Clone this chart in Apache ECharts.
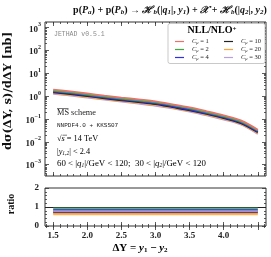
<!DOCTYPE html>
<html><head><meta charset="utf-8">
<script src="https://cdn.jsdelivr.net/npm/echarts@6/dist/echarts.min.js"></script>
<style>html,body{margin:0;padding:0;background:#fff}#c{width:271px;height:257px}</style>
</head><body><div id="c"></div>
<script>
// ---- data ----
const deltaY = [1.5, 1.75, 2.0, 2.25, 2.5, 2.75, 3.0, 3.25, 3.5, 3.75, 4.0, 4.25, 4.5];
const sigmaC1  = [1.93, 1.61, 1.31, 1.06, 0.87, 0.72, 0.59, 0.44, 0.32, 0.217, 0.143, 0.087, 0.034];
const sigmaC2  = [1.74, 1.45, 1.18, 0.96, 0.78, 0.65, 0.53, 0.40, 0.29, 0.196, 0.129, 0.078, 0.031];
const sigmaC4  = [1.58, 1.32, 1.07, 0.87, 0.71, 0.59, 0.48, 0.36, 0.26, 0.178, 0.117, 0.071, 0.028];
const sigmaC10 = [1.47, 1.23, 1.00, 0.81, 0.66, 0.55, 0.45, 0.33, 0.24, 0.166, 0.109, 0.066, 0.026];
const sigmaC20 = [1.36, 1.14, 0.92, 0.75, 0.61, 0.51, 0.41, 0.31, 0.224, 0.153, 0.101, 0.061, 0.024];
const sigmaC30 = [1.26, 1.06, 0.86, 0.70, 0.57, 0.47, 0.38, 0.29, 0.208, 0.142, 0.094, 0.057, 0.022];
const ratioC1  = [0.68, 0.68, 0.68, 0.68, 0.68, 0.68, 0.68, 0.68, 0.68, 0.68, 0.68, 0.68, 0.68];
const ratioC2  = [0.92, 0.92, 0.92, 0.92, 0.92, 0.92, 0.92, 0.92, 0.92, 0.92, 0.92, 0.92, 0.92];
const ratioC4  = [0.84, 0.84, 0.84, 0.84, 0.84, 0.84, 0.84, 0.84, 0.84, 0.84, 0.84, 0.84, 0.84];
const ratioC10 = [0.74, 0.74, 0.74, 0.74, 0.74, 0.74, 0.74, 0.74, 0.74, 0.74, 0.74, 0.74, 0.74];
const ratioC20 = [0.62, 0.62, 0.62, 0.62, 0.62, 0.62, 0.62, 0.62, 0.62, 0.62, 0.62, 0.62, 0.62];
const ratioC30 = [0.78, 0.78, 0.78, 0.78, 0.78, 0.78, 0.78, 0.78, 0.78, 0.78, 0.78, 0.78, 0.78];
const seriesNames = ['C1', 'C2', 'C4', 'C10', 'C20', 'C30'];
const muValues = ['1', '2', '4', '10', '20', '30'];
const xTickLabels = [1.5, 2.0, 2.5, 3.0, 3.5, 4.0];
const xMajorTicks = [1.5, 2.0, 2.5, 3.0, 3.5, 4.0, 4.5];
const xMinorTicks = [1.4, 1.5, 1.6, 1.7, 1.8, 1.9, 2.0, 2.1, 2.2, 2.3, 2.4, 2.5, 2.6, 2.7, 2.8, 2.9, 3.0, 3.1, 3.2, 3.3, 3.4, 3.5, 3.6, 3.7, 3.8, 3.9, 4.0, 4.1, 4.2, 4.3, 4.4, 4.5, 4.6];
const yMainTicks = [1e-3, 1e-2, 1e-1, 1, 1e1, 1e2, 1e3];
const ratioTicks = [0, 1, 2];
const ratioMinorTicks = [0.2, 0.4, 0.6, 0.8, 1.2, 1.4, 1.6, 1.8];

// ---- style ----
const colors = ['#e8726c', '#3eaa3e', '#2f2fe8', '#222222', '#ffa43a', '#b7a0dc'];
const SERIF = '"Liberation Serif", "DejaVu Serif", serif';
const DSERIF = '"DejaVu Serif", serif';
const MONO = '"Liberation Mono", "DejaVu Sans Mono", monospace';
const NB = '\u00a0';
const X_MIN = 1.38, X_MAX = 4.62;
const Y_MIN = Math.pow(10, -3.5), Y_MAX = Math.pow(10, 3.25);

const yMinorTicks = [];
for (let e = -4; e <= 3; e++) for (let k = 2; k <= 9; k++) {
  const v = k * Math.pow(10, e);
  if (v > Y_MIN && v < Y_MAX) yMinorTicks.push(v);
}

const tickLine = { color: '#333', width: 0.8 };
function xAx(grid, pos, ticks, len, labels) {
  return {
    type: 'value', gridIndex: grid, position: pos, min: X_MIN, max: X_MAX,
    axisLine: { show: false }, splitLine: { show: false },
    axisTick: { inside: true, length: len, lineStyle: tickLine, customValues: ticks },
    axisLabel: labels ? {
      show: true, customValues: labels, margin: 5,
      formatter: v => v.toFixed(1),
      fontFamily: SERIF, fontWeight: 'bold', fontSize: 9, color: '#222'
    } : { show: false }
  };
}
function yLog(pos, ticks, len, labels) {
  return {
    type: 'log', gridIndex: 0, position: pos, min: Y_MIN, max: Y_MAX, logBase: 10,
    axisLine: { show: false }, splitLine: { show: false },
    axisTick: { inside: true, length: len, lineStyle: tickLine, customValues: ticks },
    axisLabel: labels ? {
      show: true, customValues: labels, margin: 4,
      formatter: v => {
        const e = Math.round(Math.log10(v));
        return '{b|10}{s|' + (e < 0 ? '\u2212' + (-e) : e) + '}';
      },
      rich: {
        b: { fontFamily: SERIF, fontWeight: 'bold', fontSize: 9, color: '#222', lineHeight: 12, verticalAlign: 'bottom' },
        s: { fontFamily: SERIF, fontWeight: 'bold', fontSize: 6, color: '#222', lineHeight: 12, verticalAlign: 'top' }
      }
    } : { show: false }
  };
}
function yRat(pos, ticks, len, labels) {
  return {
    type: 'value', gridIndex: 1, position: pos, min: 0, max: 2,
    axisLine: { show: false }, splitLine: { show: false },
    axisTick: { inside: true, length: len, lineStyle: tickLine, customValues: ticks },
    axisLabel: labels ? {
      show: true, customValues: labels, margin: 6,
      fontFamily: SERIF, fontWeight: 'bold', fontSize: 9, color: '#222'
    } : { show: false }
  };
}

const sigmaData = [sigmaC1, sigmaC2, sigmaC4, sigmaC10, sigmaC20, sigmaC30];
const ratioData = [ratioC1, ratioC2, ratioC4, ratioC10, ratioC20, ratioC30];
const pairs = arr => deltaY.map((x, i) => [x, arr[i]]);

const series = [];
sigmaData.forEach((arr, i) => series.push({
  name: seriesNames[i], type: 'line', xAxisIndex: 0, yAxisIndex: 0,
  data: pairs(arr), smooth: 0.35, showSymbol: false, symbol: 'none',
  lineStyle: { color: colors[i], width: 1.8 }, itemStyle: { color: colors[i] },
  z: 10 - i, silent: true
}));
ratioData.forEach((arr, i) => series.push({
  name: 'ratio' + seriesNames[i], type: 'line', xAxisIndex: 4, yAxisIndex: 6,
  data: pairs(arr), showSymbol: false, symbol: 'none',
  lineStyle: { color: colors[i], width: 2, opacity: 0.85 }, z: 5, silent: true,
  markLine: i === 0 ? {
    symbol: 'none', silent: true, label: { show: false },
    lineStyle: { color: '#222', width: 1, type: 'solid' },
    data: [{ yAxis: 1 }]
  } : undefined
}));

function legendFmt(name) {
  const idx = seriesNames.indexOf(name);
  return '{i|C}{s|\u03bc}{n|' + NB + '=' + NB + muValues[idx] + '}';
}
const legendRich = {
  i: { fontFamily: SERIF, fontStyle: 'italic', fontSize: 6.5, color: '#222' },
  s: { fontFamily: SERIF, fontStyle: 'italic', fontSize: 4.5, color: '#222', verticalAlign: 'bottom', padding: [3, 0, 0, 0] },
  n: { fontFamily: SERIF, fontSize: 6.5, color: '#222' }
};
function legendCfg(left, names) {
  return {
    left: left, top: 33, orient: 'vertical', itemGap: 0.5, itemWidth: 9, itemHeight: 1.2,
    icon: 'rect', data: names, formatter: legendFmt, selectedMode: false, z: 20,
    textStyle: { rich: legendRich, padding: [0, 0, 0, 3] }
  };
}

const T = { fontFamily: SERIF, fontSize: 10, color: '#111' };
const Ti = Object.assign({}, T, { fontStyle: 'italic' });
const Tsi = { fontFamily: SERIF, fontStyle: 'italic', fontSize: 7, color: '#111', verticalAlign: 'bottom', padding: [4, 0, 0, 0] };
const Tcal = { fontFamily: DSERIF, fontStyle: 'italic', fontSize: 10, color: '#111' };

const A = { fontFamily: SERIF, fontSize: 8.3, color: '#222' };
const Ai = Object.assign({}, A, { fontStyle: 'italic' });
const As = { fontFamily: SERIF, fontStyle: 'italic', fontSize: 5.5, color: '#222', verticalAlign: 'bottom', padding: [3, 0, 0, 0] };
const B = { fontFamily: SERIF, fontSize: 8.9, color: '#222' };
const Bi = Object.assign({}, B, { fontStyle: 'italic' });

const titleText =
  '{r|p(}{i|P}{s|a}{r|)' + NB + '+' + NB + 'p(}{i|P}{s|b}{r|)' + NB + '\u2192' + NB + '}' +
  '{c|\u210b}{s|b}{r|(|}{i|q}{s|1}{r||,' + NB + '}{i|y}{s|1}{r|)' + NB + '+' + NB + '}' +
  '{c|\ud835\udcb3}{r|' + NB + '+' + NB + '}' +
  '{c|\u210b}{s|b}{r|(|}{i|q}{s|2}{r||,' + NB + '}{i|y}{s|2}{r|)}';

const option = {
  animation: false,
  backgroundColor: '#fff',
  title: {
    left: 165, textAlign: 'center', top: 0,
    text: titleText,
    textStyle: { rich: { r: T, i: Ti, s: Tsi, c: Tcal } }
  },
  grid: [
    { left: 45, top: 22, width: 221, height: 154, show: true, borderColor: '#333', borderWidth: 1, backgroundColor: 'transparent' },
    { left: 45, top: 188, width: 221, height: 38, show: true, borderColor: '#333', borderWidth: 1, backgroundColor: 'transparent' }
  ],
  xAxis: [
    xAx(0, 'bottom', xMajorTicks, 4, null),
    xAx(0, 'top', xMajorTicks, 4, null),
    xAx(0, 'bottom', xMinorTicks, 2, null),
    xAx(0, 'top', xMinorTicks, 2, null),
    xAx(1, 'bottom', xMajorTicks, 4, xTickLabels),
    xAx(1, 'top', xMajorTicks, 4, null),
    xAx(1, 'bottom', xMinorTicks, 2, null),
    xAx(1, 'top', xMinorTicks, 2, null)
  ],
  yAxis: [
    yLog('left', yMainTicks, 4, yMainTicks),
    yLog('right', yMainTicks, 4, null),
    yLog('left', yMinorTicks, 2, null),
    yLog('right', yMinorTicks, 2, null),
    yRat('left', ratioTicks, 0, null),
    yRat('right', ratioTicks, 4, null),
    yRat('left', ratioTicks, 4, ratioTicks),
    yRat('left', ratioMinorTicks, 2, null),
    yRat('right', ratioMinorTicks, 2, null)
  ],
  legend: [legendCfg(170, ['C1', 'C2', 'C4']), legendCfg(219, ['C10', 'C20', 'C30'])],
  series: series,
  graphic: [
    { type: 'rect', z: 1, shape: { x: 168, y: 23.5, width: 97, height: 40, r: 2 }, style: { fill: '#fff', stroke: '#bbb', lineWidth: 0.8 }, silent: true },
    { type: 'text', x: 212, y: 25.5, z: 30, silent: true,
      style: { text: '{b|NLL/NLO}{p|+}', align: 'center', verticalAlign: 'top',
        rich: { b: { fontFamily: SERIF, fontWeight: 'bold', fontSize: 10, color: '#111' },
                p: { fontFamily: SERIF, fontWeight: 'bold', fontSize: 7, color: '#111', verticalAlign: 'top' } } } },
    { type: 'text', x: 54, y: 31, silent: true, style: { text: 'JETHAD v0.5.1', fontFamily: MONO, fontSize: 6.5, fill: '#888' } },
    { type: 'text', x: 57, y: 108.5, silent: true, style: { text: 'MS scheme', fontFamily: SERIF, fontSize: 8.3, fill: '#222' } },
    { type: 'line', silent: true, shape: { x1: 57, y1: 108.5, x2: 68.5, y2: 108.5 }, style: { stroke: '#222', lineWidth: 0.6 } },
    { type: 'text', x: 57, y: 122, silent: true, style: { text: 'NNPDF4.0 + KKSS07', fontFamily: MONO, fontSize: 6, fill: '#222' } },
    { type: 'text', x: 57, y: 134.5, silent: true, style: { text: '{n|\u221a}{i|s}{n|' + NB + '=' + NB + '14' + NB + 'TeV}', rich: { n: A, i: Ai } } },
    { type: 'line', silent: true, shape: { x1: 62.5, y1: 135.2, x2: 67, y2: 135.2 }, style: { stroke: '#222', lineWidth: 0.6 } },
    { type: 'text', x: 57, y: 147.5, silent: true,
      style: { text: '{n||}{i|y}{s|1,2}{n||' + NB + '<' + NB + '2.4}', rich: { n: A, i: Ai, s: As } } },
    { type: 'text', x: 57, y: 159.5, silent: true,
      style: { text: '{n|60' + NB + '<' + NB + '|}{i|q}{s|1}{n||/GeV' + NB + '<' + NB + '120;' + NB + NB + '30' + NB + '<' + NB + '|}{i|q}{s|2}{n||/GeV' + NB + '<' + NB + '120}', rich: { n: B, i: Bi, s: As } } },
    { type: 'text', x: 8, y: 91, rotation: Math.PI / 2, silent: true,
      style: { text: 'd\u03c3(\u0394Y, s)/d\u0394Y [nb]', align: 'center', verticalAlign: 'middle', fontFamily: DSERIF, fontWeight: 'bold', fontSize: 11.5, fill: '#111' } },
    { type: 'text', x: 11, y: 204, rotation: Math.PI / 2, silent: true,
      style: { text: 'ratio', align: 'center', verticalAlign: 'middle', fontFamily: SERIF, fontWeight: 'bold', fontSize: 10, fill: '#111' } },
    { type: 'text', x: 140, y: 248, silent: true,
      style: { text: '{b|\u0394Y' + NB + '=' + NB + '}{i|y}{s|1}{b|' + NB + '\u2212' + NB + '}{i|y}{s|2}', align: 'center', verticalAlign: 'middle',
        rich: { b: { fontFamily: SERIF, fontWeight: 'bold', fontSize: 11, color: '#111' },
                i: { fontFamily: SERIF, fontWeight: 'bold', fontStyle: 'italic', fontSize: 11, color: '#111' },
                s: { fontFamily: SERIF, fontWeight: 'bold', fontSize: 7, color: '#111', verticalAlign: 'bottom', padding: [4, 0, 0, 0] } } } }
  ]
};
const chart = echarts.init(document.getElementById('c'), null, { renderer: 'canvas' });
chart.setOption(option);
</script>
</body></html>
